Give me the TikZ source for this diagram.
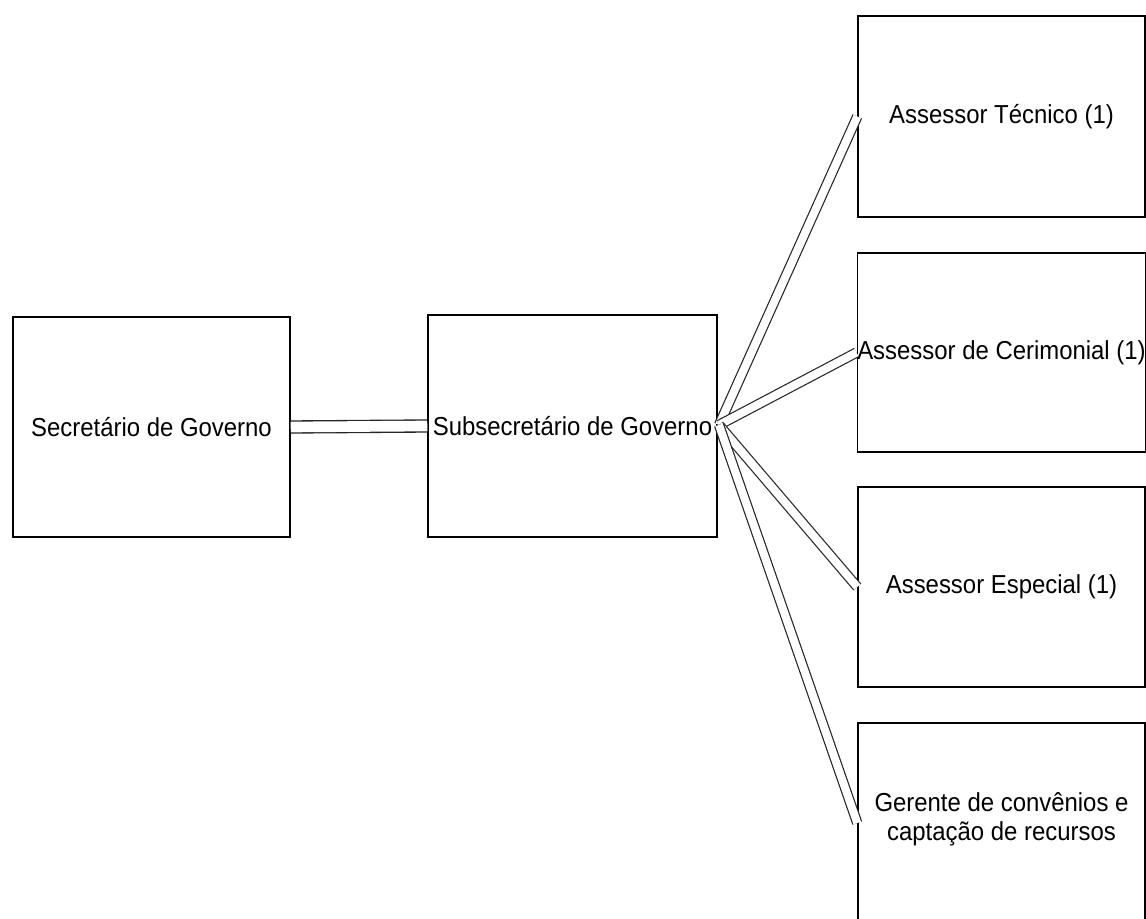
\documentclass[tikz,border=0pt]{standalone}
\usepackage{fontspec}
\setmainfont[FakeStretch=0.92]{Liberation Sans}
\begin{document}
\begin{tikzpicture}[x=0.75pt,y=-0.75pt,
  box/.style={draw=black,line width=1.1pt,inner sep=0pt,align=center,
    font=\fontsize{19.5}{22}\selectfont},
  link/.style={draw=black!85,line width=0.9pt,double=white,double distance=6pt},
  hlink/.style={draw=black!85,line width=1pt,double=white,double distance=8pt}]
\useasboundingbox (0,0) rectangle (1146,919);
\node[box,minimum width=207.75pt,minimum height=165pt] (A) at (151.5,427) {Secretário de Governo};
\node[box,minimum width=216.75pt,minimum height=166.5pt] (B) at (572.5,426) {Subsecretário de Governo};
\node[box,minimum width=215.25pt,minimum height=150.75pt] (C) at (1001.5,116.5) {Assessor Técnico (1)};
\node[box,minimum width=215.25pt,minimum height=149.25pt] (D) at (1001.5,352.5) {Assessor de Cerimonial (1)};
\node[box,minimum width=215.25pt,minimum height=150pt] (E) at (1001.5,587) {Assessor Especial (1)};
\node[box,minimum width=215.25pt,minimum height=150pt] (F) at (1001.5,823) {};
\node[align=center,inner sep=0pt,font=\fontsize{19.5}{22}\selectfont] (Ft) at (1001.5,819) {Gerente de convênios e\\captação de recursos};
\draw[hlink] (A.east) -- (B.west);
\coordinate (hub) at (719,425);
\draw[link] (hub) -- (C.west);
\draw[link] (hub) -- (D.west);
\draw[link] (hub) -- (E.west);
\draw[link] (hub) -- (F.west);
\end{tikzpicture}
\end{document}
